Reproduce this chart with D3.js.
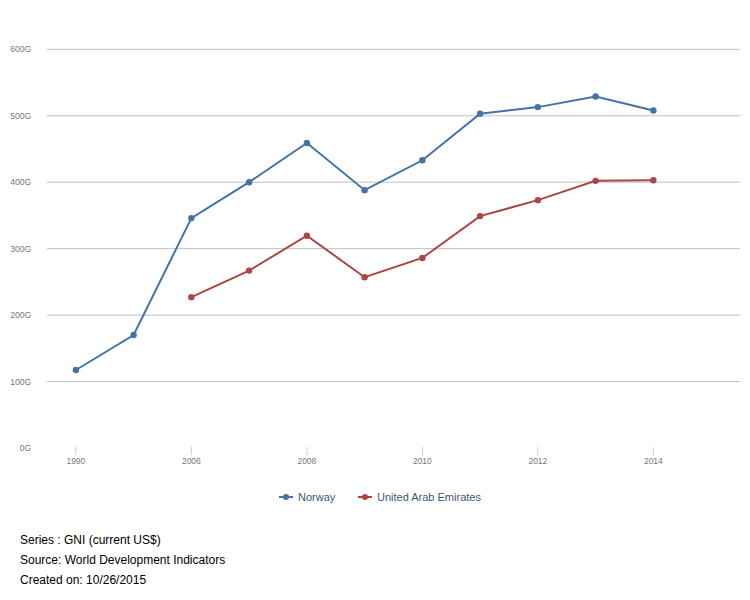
<!DOCTYPE html>
<html><head><meta charset="utf-8">
<script src="https://cdn.jsdelivr.net/npm/d3@7"></script>
<style>body{margin:0;background:#fff;font-family:"Liberation Sans",Arial,sans-serif}</style>
</head><body>
<svg id="c" width="750" height="600"></svg>
<script>
const years = ["1990","1995","2006","2007","2008","2009","2010","2011","2012","2013","2014","2015"];
const norway = [117.4,170,346,400,459,388,433,503,513,529,508,null];
const uae = [null,null,227,267,319.5,257,286,349,373,402,403,null];
const yTicks = [0,100,200,300,400,500,600];
const seriesNames = ["Norway","United Arab Emirates"];
const colors = ["#4572A7","#AA4643"];
const footer = ["Series : GNI (current US$)","Source: World Development Indicators","Created on: 10/26/2015"];

const svg = d3.select("#c");
const plotLeft = 47, plotRight = 740, plotTop = 49.3, plotBottom = 448;
const x = d3.scaleBand().domain(years).range([plotLeft, plotRight]);
const y = d3.scaleLinear().domain([0,600]).range([plotBottom, plotTop]);
const cx = d => x(d) + x.bandwidth()/2;

// gridlines
svg.append("g").selectAll("line").data(yTicks.filter(t=>t>0)).join("line")
  .attr("x1", plotLeft).attr("x2", plotRight)
  .attr("y1", d=>y(d)).attr("y2", d=>y(d))
  .attr("stroke", "#c0c0c0").attr("stroke-width", 1);

// y labels
svg.append("g").selectAll("text").data(yTicks).join("text")
  .attr("x", 31).attr("y", d=>y(d)+3)
  .attr("text-anchor","end").attr("font-size", 8.5).attr("fill","#777")
  .text(d=>d+"G");

// x ticks & labels
const labeled = years.filter((d,i)=>i%2===0 && i<11);
svg.append("g").selectAll("line").data(labeled).join("line")
  .attr("x1", d=>cx(d)).attr("x2", d=>cx(d)).attr("y1", plotBottom-1).attr("y2", plotBottom+7)
  .attr("stroke","#c0d0e0").attr("stroke-width",1);
svg.append("g").selectAll("text").data(labeled).join("text")
  .attr("x", d=>cx(d)).attr("y", 464)
  .attr("text-anchor","middle").attr("font-size", 8.5).attr("fill","#777")
  .text(d=>d);

const data = [norway, uae];
const line = d3.line().defined(d=>d.v!=null).x(d=>cx(d.k)).y(d=>y(d.v));
data.forEach((s,i)=>{
  const pts = years.map((k,j)=>({k, v:s[j]}));
  svg.append("path").datum(pts).attr("d", line)
    .attr("fill","none").attr("stroke", colors[i]).attr("stroke-width", 2);
  svg.append("g").selectAll("circle").data(pts.filter(d=>d.v!=null)).join("circle")
    .attr("cx", d=>cx(d.k)).attr("cy", d=>y(d.v)).attr("r", 3.2).attr("fill", colors[i]);
});

// legend
const legX = [279, 358];
seriesNames.forEach((n,i)=>{
  const g = svg.append("g").attr("transform", `translate(${legX[i]},497)`);
  g.append("line").attr("x1",0).attr("x2",14).attr("y1",0).attr("y2",0)
    .attr("stroke", colors[i]).attr("stroke-width",2);
  g.append("circle").attr("cx",7).attr("cy",0).attr("r",3).attr("fill",colors[i]);
  g.append("text").attr("x",19).attr("y",4).attr("font-size",11).attr("fill","#3E576F").text(n);
});

// footer
svg.append("g").selectAll("text").data(footer).join("text")
  .attr("x", 20).attr("y",(d,i)=>544+i*20)
  .attr("font-size", 12).attr("fill","#000").text(d=>d);
</script>
</body></html>
